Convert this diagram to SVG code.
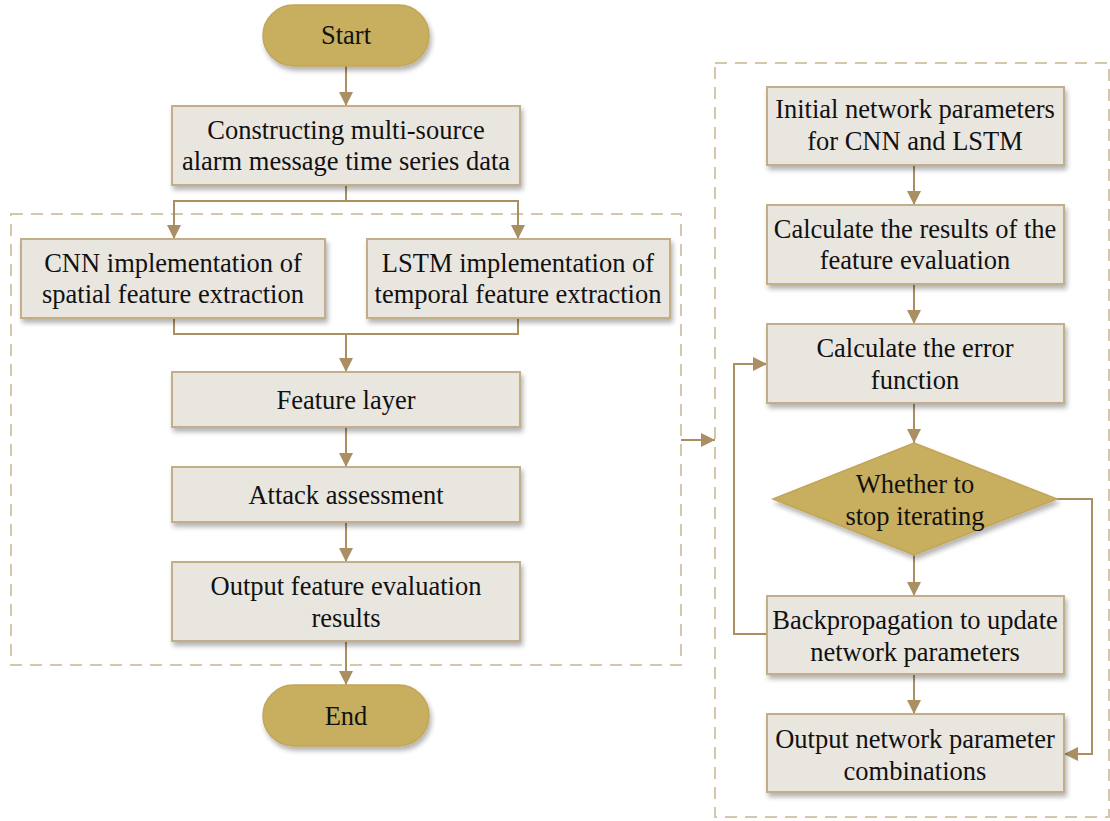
<svg xmlns="http://www.w3.org/2000/svg" width="1110" height="821" viewBox="0 0 1110 821">
  <defs>
    <marker id="arrow" viewBox="0 0 10 10" refX="10" refY="5" markerWidth="14" markerHeight="14" markerUnits="userSpaceOnUse" orient="auto">
      <path d="M0,0 L10,5 L0,10 z" fill="#A98F62"/>
    </marker>
    <filter id="shadow" x="-10%" y="-10%" width="125%" height="140%">
      <feGaussianBlur in="SourceAlpha" stdDeviation="2.5"/>
      <feOffset dx="2" dy="4" result="b"/>
      <feComponentTransfer><feFuncA type="linear" slope="0.3"/></feComponentTransfer>
      <feMerge><feMergeNode/><feMergeNode in="SourceGraphic"/></feMerge>
    </filter>
  </defs>
  <style>
    .box { fill: #E9E6E0; stroke: #C2AE88; stroke-width: 2; filter: url(#shadow); }
    .term { fill: #C8AE5E; stroke: #C2A558; stroke-width: 1.5; filter: url(#shadow); }
    .group { fill: none; stroke: #D5C7AC; stroke-width: 2; stroke-dasharray: 12 8; }
    .conn { fill: none; stroke: #A98F62; stroke-width: 2; }
    text { font-family: "Liberation Serif", "Times New Roman", serif; font-size: 26.5px; fill: #111; text-anchor: middle; }
  </style>

  <!-- dashed grouping frames -->
  <rect class="group" x="11" y="214" width="670" height="451"/>
  <rect class="group" x="715" y="63" width="394" height="754"/>

  <!-- connectors -->
  <g id="connectors">
    <path class="conn" d="M346,66 V106" marker-end="url(#arrow)"/>
    <path class="conn" d="M346,185 V201"/>
    <path class="conn" d="M174,201 H518"/>
    <path class="conn" d="M174,200 V239" marker-end="url(#arrow)"/>
    <path class="conn" d="M518,200 V239" marker-end="url(#arrow)"/>
    <path class="conn" d="M174,318 V334 H518 V318"/>
    <path class="conn" d="M346,334 V372" marker-end="url(#arrow)"/>
    <path class="conn" d="M346,427 V467" marker-end="url(#arrow)"/>
    <path class="conn" d="M346,522 V562" marker-end="url(#arrow)"/>
    <path class="conn" d="M346,641 V685" marker-end="url(#arrow)"/>
    <path class="conn" d="M681,440 H715" marker-end="url(#arrow)"/>
    <path class="conn" d="M914,165 V205" marker-end="url(#arrow)"/>
    <path class="conn" d="M914,284 V324" marker-end="url(#arrow)"/>
    <path class="conn" d="M914,403 V443" marker-end="url(#arrow)"/>
    <path class="conn" d="M914,555 V596" marker-end="url(#arrow)"/>
    <path class="conn" d="M914,674 V714" marker-end="url(#arrow)"/>
    <path class="conn" d="M767,634 H734 V364 H767" marker-end="url(#arrow)"/>
    <path class="conn" d="M1057,499 H1092 V754 H1064" marker-end="url(#arrow)"/>
  </g>

  <g id="start">
    <rect class="term" x="263" y="5" width="166" height="61" rx="30.5"/>
    <text x="346" y="44">Start</text>
  </g>
  <g id="construct">
    <rect class="box" x="172" y="106" width="348" height="79"/>
    <text x="346" y="139">Constructing multi-source</text>
    <text x="346" y="170">alarm message time series data</text>
  </g>
  <g id="cnn">
    <rect class="box" x="21" y="239" width="304" height="79"/>
    <text x="173" y="272">CNN implementation of</text>
    <text x="173" y="303">spatial feature extraction</text>
  </g>
  <g id="lstm">
    <rect class="box" x="367" y="239" width="303" height="79"/>
    <text x="518" y="272">LSTM implementation of</text>
    <text x="518" y="303">temporal feature extraction</text>
  </g>
  <g id="feature-layer">
    <rect class="box" x="172" y="372" width="348" height="55"/>
    <text x="346" y="409">Feature layer</text>
  </g>
  <g id="attack">
    <rect class="box" x="172" y="467" width="348" height="55"/>
    <text x="346" y="504">Attack assessment</text>
  </g>
  <g id="output-eval">
    <rect class="box" x="172" y="562" width="348" height="79"/>
    <text x="346" y="595">Output feature evaluation</text>
    <text x="346" y="627">results</text>
  </g>
  <g id="end">
    <rect class="term" x="263" y="685" width="166" height="61" rx="30.5"/>
    <text x="346" y="725">End</text>
  </g>

  <g id="init">
    <rect class="box" x="767" y="87" width="297" height="78"/>
    <text x="915" y="118">Initial network parameters</text>
    <text x="915" y="150">for CNN and LSTM</text>
  </g>
  <g id="calc-results">
    <rect class="box" x="767" y="205" width="297" height="79"/>
    <text x="915" y="238">Calculate the results of the</text>
    <text x="915" y="269">feature evaluation</text>
  </g>
  <g id="calc-error">
    <rect class="box" x="767" y="324" width="297" height="79"/>
    <text x="915" y="357">Calculate the error</text>
    <text x="915" y="389">function</text>
  </g>
  <g id="decision">
    <polygon class="term" points="914,443 1057,499 914,555 773,499"/>
    <text x="915" y="493">Whether to</text>
    <text x="915" y="525">stop iterating</text>
  </g>
  <g id="backprop">
    <rect class="box" x="767" y="596" width="297" height="78"/>
    <text x="915" y="629">Backpropagation to update</text>
    <text x="915" y="661">network parameters</text>
  </g>
  <g id="output-params">
    <rect class="box" x="767" y="714" width="297" height="78"/>
    <text x="915" y="748">Output network parameter</text>
    <text x="915" y="780">combinations</text>
  </g>
</svg>
